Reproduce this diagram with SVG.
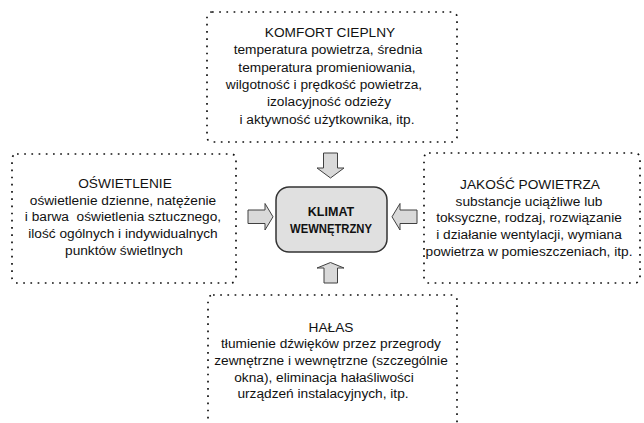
<svg xmlns="http://www.w3.org/2000/svg" width="644" height="423" viewBox="0 0 644 423">
<style>
.box{fill:none;stroke:#111;stroke-width:1.7;stroke-dasharray:1.7 5.5;}
.t{font-family:"Liberation Sans",Arial,sans-serif;font-size:13.7px;fill:#111;text-anchor:middle;}
.c{font-family:"Liberation Sans",Arial,sans-serif;font-size:12.5px;font-weight:bold;fill:#111;text-anchor:middle;}
.arr{fill:#d9d9d9;stroke:#404040;stroke-width:1;stroke-linejoin:miter;}
</style>
<rect width="644" height="423" fill="#fff"/>
<g id="komfort">
<rect class="box" x="207" y="12" width="250" height="130" rx="5"/>
<text class="t" x="330" y="37">KOMFORT CIEPLNY</text>
<text class="t" x="328" y="54.3">temperatura powietrza, średnia</text>
<text class="t" x="327" y="71.6">temperatura promieniowania,</text>
<text class="t" x="324" y="89">wilgotność i prędkość powietrza,</text>
<text class="t" x="329" y="106.2">izolacyjność odzieży</text>
<text class="t" x="327" y="123.5">i aktywność użytkownika, itp.</text>
</g>
<g id="oswietlenie">
<rect class="box" x="12" y="154" width="224" height="129" rx="5"/>
<text class="t" x="125" y="188">OŚWIETLENIE</text>
<text class="t" x="123" y="204.7">oświetlenie dzienne, natężenie</text>
<text class="t" x="123" y="221.3" xml:space="preserve">i barwa  oświetlenia sztucznego,</text>
<text class="t" x="123" y="238">ilość ogólnych i indywidualnych</text>
<text class="t" x="124" y="254.7">punktów świetlnych</text>
</g>
<g id="jakosc">
<rect class="box" x="424" y="153" width="216" height="130" rx="5"/>
<text class="t" x="530" y="189">JAKOŚĆ POWIETRZA</text>
<text class="t" x="529" y="205.7">substancje uciążliwe lub</text>
<text class="t" x="529" y="222.3">toksyczne, rodzaj, rozwiązanie</text>
<text class="t" x="529" y="239">i działanie wentylacji, wymiana</text>
<text class="t" x="529" y="255.7">powietrza w pomieszczeniach, itp.</text>
</g>
<g id="halas">
<rect class="box" x="208" y="295" width="249" height="150" rx="5"/>
<text class="t" x="331" y="331.7">HAŁAS</text>
<text class="t" x="331" y="348.3">tłumienie dźwięków przez przegrody</text>
<text class="t" x="331" y="365">zewnętrzne i wewnętrzne (szczególnie</text>
<text class="t" x="324" y="381.7">okna), eliminacja hałaśliwości</text>
<text class="t" x="323" y="398.3">urządzeń instalacyjnych, itp.</text>
</g>
<g id="klimat">
<rect x="276" y="187" width="111" height="65" rx="13" fill="#e0e0e0" stroke="#333" stroke-width="1.5"/>
<text class="c" x="331" y="216">KLIMAT</text>
<text class="c" x="331" y="233" textLength="82" lengthAdjust="spacingAndGlyphs">WEWNĘTRZNY</text>
</g>
<g id="connectors">
<path class="arr" d="M323.5,153 H337.5 V168 H344 L330.5,178 L317,168 H323.5 Z"/>
<path class="arr" d="M324,283 H337.5 V268 H344 L330.5,262.5 L317,268 H324 Z"/>
<path class="arr" d="M248,210 V223.5 H265 V230 L273,216.8 L265,203.5 V210 Z"/>
<path class="arr" d="M417,210 V223.5 H400 V230 L392,216.8 L400,203.5 V210 Z"/>
</g>
</svg>
